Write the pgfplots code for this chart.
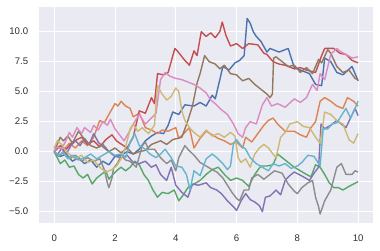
\documentclass[border=0pt]{standalone}
\usepackage{fontspec}
\setmainfont{Liberation Sans}
\usepackage{pgfplots}
\pgfplotsset{compat=1.18}
\usetikzlibrary{calc}
\definecolor{sbg}{RGB}{234,234,242}
\definecolor{c0}{HTML}{4C72B0}
\definecolor{c1}{HTML}{DD8452}
\definecolor{c2}{HTML}{55A868}
\definecolor{c3}{HTML}{C44E52}
\definecolor{c4}{HTML}{8172B3}
\definecolor{c5}{HTML}{937860}
\definecolor{c6}{HTML}{DA8BC3}
\definecolor{c7}{HTML}{8C8C8C}
\definecolor{c8}{HTML}{CCB974}
\definecolor{c9}{HTML}{64B5CD}
\begin{document}
\begin{tikzpicture}
\begin{axis}[
  name=ax,
  scale only axis,
  width=334.4bp, height=216bp,
  xmin=-0.5, xmax=10.5, ymin=-5.97, ymax=12.03,
  axis background/.style={fill=sbg},
  axis line style={draw=none},
  tick style={draw=none},
  grid=major,
  major grid style={white, line width=0.9bp},
  xtick={0,2,4,6,8,10},
  xticklabels={0,2,4,6,8,10},
  ytick={-5,-2.5,0,2.5,5,7.5,10},
  yticklabels={−5.0,−2.5,0.0,2.5,5.0,7.5,10.0},
  every tick label/.append style={inner sep=0pt, font=\fontsize{9.6bp}{11bp}\selectfont, text=black!82},
  xticklabel style={yshift=-11bp},
  yticklabel style={xshift=-10.7bp},
  every axis plot/.append style={line width=1.4bp, line join=round, no markers},
]
% blue C0
\addplot[c0] coordinates {(0,0)(0.2,-0.4)(0.4,-0.2)(0.6,-0.8)(0.8,-0.5)(1.0,-1.0)(1.2,-0.7)(1.4,-1.3)(1.6,-0.8)(1.8,-1.1)(2.0,-0.4)(2.2,-0.3)(2.4,0.0)(2.6,-0.2)(2.8,0.2)(3.0,0.9)(3.2,1.3)(3.4,1.6)(3.6,1.5)(3.75,2.2)(3.9,3.3)(4.1,3.1)(4.3,3.9)(4.6,3.8)(4.8,4.1)(5.0,3.8)(5.2,4.7)(5.3,4.4)(5.45,6.0)(5.55,7.1)(5.75,6.8)(5.95,7.4)(6.1,7.6)(6.25,8.0)(6.35,11.1)(6.45,10.7)(6.55,10.0)(6.65,9.6)(6.8,9.2)(7.0,8.3)(7.1,8.6)(7.4,8.3)(7.7,8.6)(7.9,7.0)(8.1,6.8)(8.4,6.5)(8.6,5.6)(8.8,5.5)(8.9,7.8)(9.1,7.5)(9.3,6.6)(9.5,6.4)(9.8,7.1)(10,5.9)};
% orange C1
\addplot[c1] coordinates {(0,0)(0.15,0.4)(0.3,0.1)(0.5,0.7)(0.7,0.3)(0.9,0.9)(1.1,0.5)(1.3,1.2)(1.5,2.6)(1.65,2.4)(1.8,3.1)(2.0,4.0)(2.1,3.8)(2.2,4.2)(2.35,3.8)(2.5,3.6)(2.6,2.9)(2.8,3.2)(3.0,2.0)(3.2,1.8)(3.4,1.5)(3.55,1.8)(3.75,1.7)(4.0,2.0)(4.1,1.1)(4.3,1.6)(4.45,2.0)(4.6,0.3)(4.8,1.1)(5.0,1.7)(5.2,1.4)(5.4,1.1)(5.6,0.9)(5.8,0.6)(6.0,0.8)(6.2,0.3)(6.3,1.2)(6.5,0.8)(6.7,1.5)(6.9,2.2)(7.05,2.6)(7.2,2.8)(7.35,2.3)(7.6,1.7)(7.9,1.7)(8.1,1.4)(8.3,1.2)(8.45,2.0)(8.6,2.5)(8.75,4.2)(8.9,4.5)(9.1,4.2)(9.3,3.8)(9.5,3.6)(9.65,4.5)(9.85,4.2)(10,3.8)};
% green C2
\addplot[c2] coordinates {(0,0)(0.1,-0.5)(0.2,-1.0)(0.35,-0.7)(0.5,-1.3)(0.65,-1.2)(0.8,-1.9)(0.95,-2.2)(1.1,-1.9)(1.25,-2.7)(1.4,-2.2)(1.55,-1.9)(1.7,-1.6)(1.8,-2.3)(1.9,-2.0)(2.05,-1.6)(2.2,-1.3)(2.35,-1.6)(2.5,-1.3)(2.65,-0.8)(2.8,-1.1)(2.95,-1.9)(3.1,-2.4)(3.25,-3.2)(3.4,-3.8)(3.55,-3.4)(3.75,-3.5)(3.95,-3.2)(4.1,-4.1)(4.25,-3.6)(4.4,-3.0)(4.6,-2.7)(4.8,-2.4)(5.0,-1.9)(5.2,-1.5)(5.4,-1.3)(5.6,-1.9)(5.8,-2.4)(6.0,-2.2)(6.2,-2.4)(6.4,-2.9)(6.6,-1.9)(6.8,-1.2)(7.0,-1.2)(7.2,-1.1)(7.35,-0.2)(7.5,-0.5)(7.7,-0.9)(7.9,-1.3)(8.1,-1.6)(8.3,-1.9)(8.45,-2.1)(8.6,-1.1)(8.75,-1.3)(8.9,-1.9)(9.05,-2.6)(9.2,-3.0)(9.35,-3.0)(9.5,-3.2)(9.7,-2.9)(9.85,-2.7)(10,-2.5)};
% red C3
\addplot[c3] coordinates {(0,0)(0.2,0.5)(0.4,0.2)(0.6,0.8)(0.9,1.2)(1.1,0.6)(1.3,0.9)(1.5,0.4)(1.7,1.0)(1.9,1.4)(2.05,0.9)(2.16,0.7)(2.4,0.3)(2.6,1.2)(2.8,3.4)(3.0,3.2)(3.2,4.5)(3.3,4.0)(3.4,6.5)(3.6,6.4)(3.75,6.6)(3.97,8.6)(4.05,8.4)(4.3,7.6)(4.45,7.2)(4.6,8.4)(4.7,8.0)(4.84,10.0)(5.0,9.6)(5.15,9.9)(5.3,9.5)(5.45,10.0)(5.53,10.8)(5.65,9.7)(5.8,8.8)(6.0,9.0)(6.2,8.6)(6.4,9.0)(6.7,8.9)(6.9,8.2)(7.0,8.1)(7.2,7.5)(7.4,7.3)(7.6,7.2)(7.9,6.9)(8.1,7.0)(8.3,6.8)(8.6,6.6)(8.8,8.0)(8.9,8.6)(9.2,8.6)(9.4,8.2)(9.6,8.1)(9.8,7.6)(10,7.4)};
% purple C4
\addplot[c4] coordinates {(0,0)(0.1,-0.3)(0.25,0.3)(0.4,-0.2)(0.55,0.5)(0.7,0.9)(0.85,0.5)(1.0,1.1)(1.15,0.6)(1.3,1.5)(1.45,0.8)(1.6,0.4)(1.8,0.0)(2.0,-0.4)(2.2,-0.5)(2.4,-0.3)(2.6,-0.9)(2.8,-1.0)(3.0,-0.8)(3.2,-1.3)(3.35,-1.1)(3.5,-1.9)(3.7,-2.4)(3.85,-1.3)(4.0,-2.8)(4.2,-3.4)(4.4,-3.8)(4.55,-2.7)(4.75,-2.8)(5.0,-2.6)(5.15,-3.0)(5.35,-3.2)(5.5,-3.5)(5.7,-4.1)(5.9,-4.6)(6.0,-4.9)(6.15,-4.1)(6.3,-3.5)(6.45,-4.0)(6.6,-4.2)(6.75,-4.5)(6.85,-5.0)(6.95,-3.8)(7.1,-3.7)(7.3,-3.2)(7.45,-3.6)(7.6,-2.4)(7.75,-2.0)(7.9,-1.7)(8.05,-1.9)(8.2,-2.1)(8.4,-2.4)(8.55,-1.8)(8.7,-1.3)(8.78,2.3)(8.9,1.9)(9.1,2.2)(9.3,2.6)(9.45,2.3)(9.6,2.0)(9.75,2.8)(9.9,3.6)(10,3.0)};
% brown C5
\addplot[c5] coordinates {(0,0)(0.1,0.6)(0.2,1.2)(0.3,0.9)(0.45,1.3)(0.6,0.7)(0.8,1.7)(1.0,1.0)(1.2,0.5)(1.4,0.3)(1.6,0.6)(1.8,0.0)(2.0,0.3)(2.2,-0.1)(2.4,0.3)(2.6,-0.2)(2.8,0.0)(3.0,0.1)(3.2,0.6)(3.5,0.9)(3.7,0.6)(3.9,1.0)(4.2,1.2)(4.4,2.6)(4.55,3.8)(4.7,5.7)(4.8,6.5)(4.95,8.0)(5.1,7.5)(5.3,7.3)(5.45,6.9)(5.6,7.2)(5.8,6.5)(6.0,6.4)(6.2,5.9)(6.4,6.1)(6.6,5.6)(6.8,5.2)(7.0,4.8)(7.1,4.5)(7.18,4.8)(7.22,7.8)(7.3,7.9)(7.5,7.5)(7.7,7.1)(7.9,7.2)(8.1,6.6)(8.3,7.0)(8.5,6.5)(8.7,7.7)(8.8,7.4)(9.0,8.5)(9.1,8.2)(9.3,7.1)(9.5,6.6)(9.7,6.8)(9.9,6.1)(10,6.0)};
% pink C6
\addplot[c6] coordinates {(0,0)(0.1,0.4)(0.25,0.2)(0.4,1.0)(0.5,1.6)(0.6,1.2)(0.75,2.0)(0.9,1.5)(1.0,2.0)(1.2,1.6)(1.3,2.2)(1.45,1.8)(1.6,2.5)(1.75,2.2)(1.85,2.7)(2.0,1.9)(2.15,1.4)(2.3,0.9)(2.5,1.8)(2.65,2.5)(2.8,3.1)(3.0,2.3)(3.2,2.8)(3.35,3.2)(3.5,6.0)(3.65,6.6)(3.8,6.3)(4.0,6.1)(4.2,6.0)(4.4,5.8)(4.6,5.6)(4.8,5.3)(5.0,4.9)(5.15,4.3)(5.3,4.0)(5.5,3.5)(5.7,3.1)(5.9,2.3)(6.05,1.5)(6.2,1.2)(6.3,2.0)(6.45,2.5)(6.65,2.3)(6.85,3.9)(7.0,4.5)(7.15,3.8)(7.35,4.0)(7.6,3.7)(7.9,4.4)(8.1,4.1)(8.3,4.5)(8.5,5.6)(8.65,5.1)(8.75,6.5)(8.9,6.0)(9.1,8.1)(9.3,8.6)(9.45,8.3)(9.6,8.1)(9.8,7.8)(10,7.9)};
% gray C7
\addplot[c7] coordinates {(0,0)(0.15,-0.4)(0.3,0.0)(0.5,-0.6)(0.7,-0.3)(0.9,-0.8)(1.1,-0.5)(1.3,-0.8)(1.5,-0.6)(1.65,-1.5)(1.75,-2.6)(1.8,-3.0)(1.9,-2.2)(1.95,-1.4)(2.1,-0.9)(2.2,-0.3)(2.35,-0.7)(2.5,-0.8)(2.7,-1.3)(2.9,0.5)(3.0,0.8)(3.1,0.2)(3.3,0.2)(3.5,-0.5)(3.7,-1.0)(3.85,-0.7)(4.0,-1.6)(4.1,-0.5)(4.3,0.5)(4.4,0.2)(4.6,-0.3)(4.8,-0.9)(5.0,-1.2)(5.2,-1.5)(5.35,-1.7)(5.55,-2.2)(5.7,-2.8)(5.85,-3.4)(6.0,-3.9)(6.1,-4.1)(6.25,-3.2)(6.4,-3.2)(6.5,-2.2)(6.7,-1.9)(6.9,-2.3)(7.1,-1.9)(7.25,-1.6)(7.5,-1.8)(7.7,-2.7)(7.9,-3.3)(8.0,-3.5)(8.15,-3.0)(8.35,-2.6)(8.5,-2.4)(8.6,-3.8)(8.7,-4.6)(8.75,-5.2)(8.9,-4.1)(9.1,-3.2)(9.3,-1.3)(9.45,-1.0)(9.6,-1.9)(9.8,-1.9)(9.9,-1.6)(10,-1.7)};
% olive C8
\addplot[c8] coordinates {(0,0.3)(0.1,0.9)(0.25,0.6)(0.4,0.0)(0.55,-0.3)(0.7,-0.6)(0.9,-0.3)(1.1,-0.9)(1.3,-0.7)(1.5,-1.3)(1.7,-1.7)(1.9,-1.5)(2.05,-1.2)(2.2,-0.6)(2.35,0.4)(2.5,1.9)(2.6,2.3)(2.75,1.7)(2.9,2.0)(3.1,1.5)(3.3,2.2)(3.4,5.5)(3.55,4.8)(3.7,4.3)(3.85,4.6)(4.0,5.3)(4.1,5.0)(4.2,3.4)(4.3,2.6)(4.45,2.0)(4.6,1.6)(4.8,1.2)(5.0,1.8)(5.2,1.3)(5.4,1.5)(5.6,1.2)(5.8,1.6)(5.95,1.3)(6.05,-0.5)(6.15,-0.9)(6.3,-0.6)(6.45,-1.3)(6.6,-0.2)(6.75,0.3)(6.9,0.6)(7.05,0.3)(7.2,-0.2)(7.3,-0.5)(7.45,1.2)(7.6,1.6)(7.75,2.3)(8.0,2.5)(8.2,2.1)(8.4,2.0)(8.6,1.2)(8.75,0.7)(8.9,3.3)(9.1,3.1)(9.3,2.6)(9.5,2.3)(9.7,1.0)(9.85,0.7)(10,1.5)};
% cyan C9
\addplot[c9] coordinates {(0,0)(0.15,-0.3)(0.3,-0.1)(0.45,-0.6)(0.6,-0.3)(0.8,-0.7)(1.0,-0.5)(1.2,-0.2)(1.4,-0.6)(1.6,-0.3)(1.8,0.0)(2.0,-0.3)(2.2,-0.2)(2.35,-0.5)(2.5,0.8)(2.65,1.5)(2.8,0.5)(3.0,0.2)(3.15,-0.2)(3.35,-0.5)(3.5,-0.2)(3.65,0.2)(3.85,-0.5)(4.0,-1.2)(4.2,-1.3)(4.35,-1.9)(4.47,-3.2)(4.6,-1.6)(4.8,-2.0)(5.0,-0.6)(5.2,-0.2)(5.35,-0.5)(5.55,-1.0)(5.7,-1.5)(5.8,-1.2)(5.9,0.7)(6.0,1.0)(6.15,0.5)(6.3,0.2)(6.45,-0.5)(6.65,-1.0)(6.85,-1.3)(7.05,-1.6)(7.2,-1.0)(7.4,-1.2)(7.6,-1.0)(7.8,-1.4)(8.0,-1.2)(8.15,-0.9)(8.35,-0.3)(8.55,-0.4)(8.75,-1.2)(8.85,1.9)(9.0,1.9)(9.15,2.3)(9.3,2.4)(9.45,3.0)(9.6,3.6)(9.75,2.8)(9.9,3.6)(10,4.2)};
\end{axis}
\pgfresetboundingbox
\path[use as bounding box] ($(ax.south west)+(-39bp,-27.7bp)$) rectangle ($(ax.north east)+(6.7bp,7.3bp)$);
\end{tikzpicture}
\end{document}
